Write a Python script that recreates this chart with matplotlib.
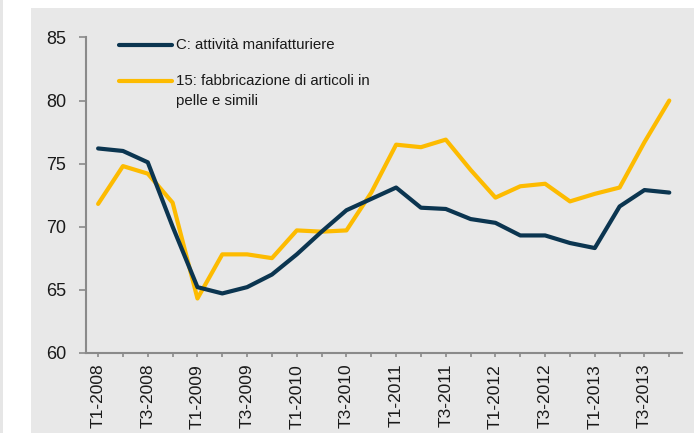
import matplotlib
matplotlib.use("Agg")
import matplotlib.pyplot as plt
from matplotlib.patches import Rectangle
from matplotlib.lines import Line2D

plt.rcParams['font.family'] = ['Liberation Sans', 'DejaVu Sans']

# trimestri T1-2008 ... T4-2013
trimestri = [f"T{q}-{y}" for y in range(2008, 2014) for q in range(1, 5)]

manifatturiere = [76.2, 76.0, 75.1, 70.0, 65.2, 64.7, 65.2, 66.2,
                  67.8, 69.6, 71.3, 72.2, 73.1, 71.5, 71.4, 70.6,
                  70.3, 69.3, 69.3, 68.7, 68.3, 71.6, 72.9, 72.7]
pelle = [71.8, 74.8, 74.2, 71.9, 64.3, 67.8, 67.8, 67.5,
         69.7, 69.6, 69.7, 72.7, 76.5, 76.3, 76.9, 74.5,
         72.3, 73.2, 73.4, 72.0, 72.6, 73.1, 76.7, 80.0]

etichette = ["C: attività manifatturiere",
             "15: fabbricazione di articoli in\npelle e simili"]
colori = ["#0b3550", "#fdbb00"]

fig = plt.figure(figsize=(6.94, 4.33), dpi=100)
W, H = 694, 433

# sfondo grigio del pannello
fig.add_artist(Rectangle((31 / W, 0), 1 - 31 / W, 1 - 8 / H, transform=fig.transFigure,
                         facecolor="#e8e8e8", edgecolor="none", zorder=-10))
fig.add_artist(Rectangle((0, 0), 3 / W, 1, transform=fig.transFigure,
                         facecolor="#e6e6e6", edgecolor="none", zorder=-10))

ax = fig.add_axes([85.7 / W, 1 - 352.7 / H, (681.7 - 85.7) / W, (352.7 - 37.5) / H])
ax.set_facecolor("none")

x = list(range(len(trimestri)))
ax.plot(x, manifatturiere, color=colori[0], lw=3.0, solid_capstyle="round", zorder=3)
ax.plot(x, pelle, color=colori[1], lw=3.0, solid_capstyle="round", zorder=2)

ax.set_xlim(-0.5, len(trimestri) - 0.5)
ax.set_ylim(60, 85)
ax.set_yticks([60, 65, 70, 75, 80, 85])
ax.set_xticks(x)
ax.set_xticklabels([t if i % 2 == 0 else "" for i, t in enumerate(trimestri)], rotation=90)

for s in ["top", "right"]:
    ax.spines[s].set_visible(False)
for s in ["left", "bottom"]:
    ax.spines[s].set_color("#8a8a8a")
    ax.spines[s].set_linewidth(1.5)

ax.tick_params(axis="y", length=5, width=1.2, color="#8a8a8a", labelsize=13,
               labelcolor="#1a1a1a", pad=9)
ax.tick_params(axis="x", length=3, width=1.2, color="#8a8a8a", labelsize=12.5,
               labelcolor="#1a1a1a", pad=5)

# legenda costruita a mano (la linea è allineata alla prima riga del testo)
def ax_xy(px, py):
    return (px - 85.7) / 596.0, (352.7 - py) / 315.2

for testo, col, py in zip(etichette, colori, [45, 81]):
    x0, y0 = ax_xy(119, py)
    x1, _ = ax_xy(172, py)
    ax.add_line(Line2D([x0, x1], [y0, y0], transform=ax.transAxes, color=col,
                       lw=3.0, solid_capstyle="round", clip_on=False))
    for k, riga in enumerate(testo.split("\n")):
        tx, ty = ax_xy(176, py + 20 * k)
        ax.text(tx, ty, riga, transform=ax.transAxes, fontsize=10.8,
                color="#1a1a1a", va="center", ha="left")

fig.savefig("out.png", dpi=100)
